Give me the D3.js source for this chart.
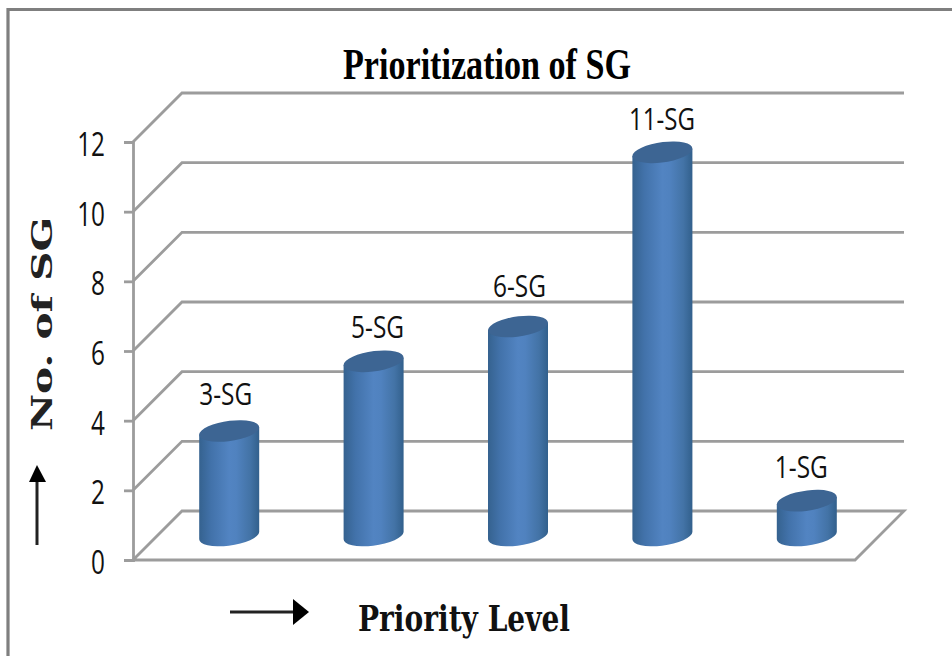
<!DOCTYPE html>
<html>
<head>
<meta charset="utf-8">
<script src="https://cdn.jsdelivr.net/npm/d3@7"></script>
<style>
html, body { margin: 0; padding: 0; background: #fff; overflow: hidden; }
svg { display: block; }
</style>
</head>
<body>
<script>
// Chart content
const chartTitle = "Prioritization of SG";
const categories = ["P1", "P2", "P3", "P4", "P5"];
const counts = [3, 5, 6, 11, 1];
const barLabels = ["3-SG", "5-SG", "6-SG", "11-SG", "1-SG"];
const yTicks = [0, 2, 4, 6, 8, 10, 12];
const yAxisTitle = "No. of SG";
const xAxisTitle = "Priority Level";

const width = 952, height = 656;
const depth = 49;             // horizontal and vertical reach of the 3D floor
const gridColor = "#9c9c9c";

// Hand placement of the value labels relative to their cylinders
const labelNudgeX = [-3.5, 4, 1.5, -0.5, -5.5];
const labelNudgeY = [-26, -23.5, -29.5, -22, -23];

const x = d3.scaleBand().domain(categories).range([133, 855]);
const y = d3.scaleLinear().domain([0, 12]).range([560, 142]);

const svg = d3.select("body").append("svg")
  .attr("width", width).attr("height", height);
const defs = svg.append("defs");

// Horizontal shading across each cylinder
const grad = defs.append("linearGradient").attr("id", "cyl")
  .attr("x1", "0%").attr("x2", "100%").attr("y1", "0%").attr("y2", "0%");
[[0, "#35628f"], [0.2, "#4272aa"], [0.5, "#5284c2"], [0.62, "#5082bf"], [0.85, "#4373a6"], [1, "#32608c"]]
  .forEach(([o, c]) => grad.append("stop").attr("offset", o).attr("stop-color", c));

// Outer frame
svg.append("path")
  .attr("d", `M8,${height} V9.5 H${width}`)
  .attr("fill", "none").attr("stroke", "#7f7f7f").attr("stroke-width", 3.2);

// Walls: gridlines run along the side wall then across the back wall
const grid = svg.append("g").attr("fill", "none")
  .attr("stroke", gridColor).attr("stroke-width", 2.8);
yTicks.forEach(t => {
  if (t === 0) {
    grid.append("path").attr("d",
      `M${x.range()[0]},${y(0)} L${x.range()[0] + depth},${y(0) - depth} H${x.range()[1] + depth} L${x.range()[1]},${y(0)} Z`);
  } else {
    grid.append("path").attr("d",
      `M${x.range()[0]},${y(t)} L${x.range()[0] + depth},${y(t) - depth} H${x.range()[1] + depth}`);
  }
});

// Value axis; the digits are tall and condensed, so they are squeezed horizontally
const tickSqueeze = 0.76;
const yAxis = d3.axisLeft(y).tickValues(yTicks).tickSize(9).tickPadding(8);
const axisG = svg.append("g")
  .attr("transform", `translate(${x.range()[0]},0)`).call(yAxis);
axisG.selectAll("path, line").attr("stroke", gridColor).attr("stroke-width", 2.8);
axisG.selectAll("text")
  .attr("font-family", "'Open Sans'").attr("font-size", 32).attr("fill", "#111")
  .attr("x", -28 / tickSqueeze).attr("dy", "0.42em")
  .attr("transform", `scale(${tickSqueeze},1)`);

// Cylinders
const rx = 30, ry = 10, tilt = -8, lift = 3.6;
const ax = `${rx} ${ry} ${tilt}`;
const cx = d => x(d.cat) + x.bandwidth() / 2 + depth / 2 - 0.5;
const baseY = y(0) - depth / 2;
const topY = d => y(d.value) - depth / 2;
const rows = categories.map((cat, i) => ({ cat, value: counts[i], label: barLabels[i], dx: labelNudgeX[i], dy: labelNudgeY[i] }));

const bars = svg.append("g").selectAll("g").data(rows).join("g");
bars.append("path")
  .attr("fill", "url(#cyl)")
  .attr("d", d => {
    const c = cx(d), t = topY(d);
    return `M${c - rx},${t + lift} L${c + rx},${t - lift} L${c + rx},${baseY - lift}` +
      ` A${ax} 0 1 ${c - rx},${baseY + lift} Z`;
  });
bars.append("path")
  .attr("fill", "#3d6593")
  .attr("d", d => {
    const c = cx(d), t = topY(d);
    return `M${c - rx},${t + lift} A${ax} 0 1 ${c + rx},${t - lift} A${ax} 0 1 ${c - rx},${t + lift} Z`;
  });

// Value labels above the cylinders
bars.append("text")
  .attr("x", d => cx(d) + d.dx)
  .attr("y", d => topY(d) + d.dy)
  .attr("text-anchor", "middle")
  .attr("font-family", "'Open Sans'").attr("font-size", 31).attr("fill", "#111")
  .attr("textLength", d => d.label.length === 5 ? 66 : 53).attr("lengthAdjust", "spacingAndGlyphs")
  .text(d => d.label);

// Titles
svg.append("text")
  .attr("x", 343).attr("y", 79)
  .attr("font-family", "'Liberation Serif'").attr("font-weight", "bold").attr("font-size", 44).attr("fill", "#000")
  .attr("textLength", 288).attr("lengthAdjust", "spacingAndGlyphs")
  .text(chartTitle);
svg.append("text")
  .attr("x", 358).attr("y", 631)
  .attr("font-family", "'DejaVu Serif'").attr("font-weight", "bold").attr("font-size", 35).attr("fill", "#111")
  .attr("textLength", 212).attr("lengthAdjust", "spacingAndGlyphs")
  .text(xAxisTitle);
svg.append("text")
  .attr("transform", "translate(52,431) rotate(-90)")
  .attr("font-family", "'DejaVu Serif'").attr("font-weight", "bold").attr("font-size", 28).attr("fill", "#222")
  .attr("textLength", 214).attr("lengthAdjust", "spacingAndGlyphs")
  .text(yAxisTitle);

// Direction arrows beside the axis titles
const arrows = svg.append("g");
arrows.append("path").attr("d", "M37,545 V480").attr("stroke", "#222").attr("stroke-width", 3);
arrows.append("path").attr("d", "M37,465 L29,482 H46 Z").attr("fill", "#000");
arrows.append("path").attr("d", "M230,612 H295").attr("stroke", "#222").attr("stroke-width", 3);
arrows.append("path").attr("d", "M309,612 L293,599 V625 Z").attr("fill", "#000");
</script>
</body>
</html>
